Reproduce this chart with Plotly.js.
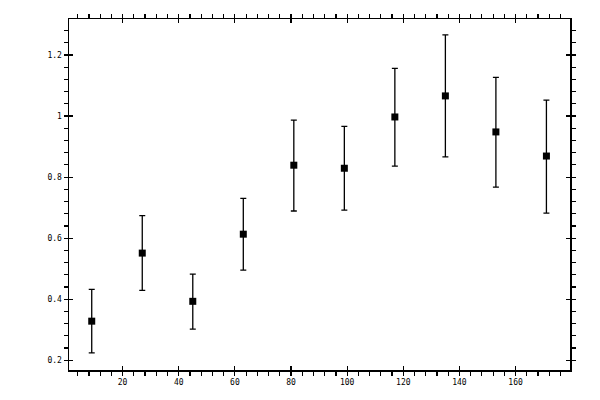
<!DOCTYPE html>
<html>
<head>
<meta charset="utf-8">
<script src="https://cdn.plot.ly/plotly-3.0.1.min.js"></script>
<style>html,body{margin:0;padding:0;background:#fff;}#chart{width:600px;height:400px;}</style>
</head>
<body>
<div id="chart"></div>
<script>
const xValues = [9, 27, 45, 63, 81, 99, 117, 135, 153, 171];
const yValues = [0.328, 0.551, 0.393, 0.613, 0.839, 0.829, 0.997, 1.066, 0.948, 0.869];
const errUpper = [0.104, 0.123, 0.089, 0.117, 0.148, 0.137, 0.159, 0.200, 0.179, 0.183];
const errLower = [0.104, 0.122, 0.091, 0.118, 0.150, 0.137, 0.161, 0.200, 0.181, 0.187];

const tickFont = {family: 'DejaVu Sans Mono, monospace', size: 8, color: '#000'};

const traces = [
  {
    x: xValues, y: yValues, type: 'scatter', mode: 'markers',
    marker: {symbol: 'square', size: 7, color: '#000'},
    error_y: {type: 'data', symmetric: false, array: errUpper, arrayminus: errLower,
              color: '#000', thickness: 1.3, width: 3},
    xaxis: 'x', yaxis: 'y', hoverinfo: 'skip', showlegend: false
  },
  {
    x: xValues, y: yValues, type: 'scatter', mode: 'markers',
    marker: {size: 1, color: 'rgba(0,0,0,0)'},
    xaxis: 'x2', yaxis: 'y2', hoverinfo: 'skip', showlegend: false
  }
];

const xr = [0.9, 179.4];
const yr = [0.168, 1.318];

const layout = {
  width: 600, height: 400,
  margin: {l: 69, r: 30, t: 19, b: 30},
  paper_bgcolor: '#fff', plot_bgcolor: '#fff',
  showlegend: false,
  xaxis: {
    range: xr, tick0: 0, dtick: 20, showgrid: false, zeroline: false,
    showline: true, linecolor: '#000', linewidth: 1.5, mirror: 'allticks',
    ticks: 'outside', ticklen: 4, tickwidth: 1.2, tickcolor: '#000',
    minor: {tick0: 0, dtick: 4, ticks: 'outside', ticklen: 4, tickwidth: 1.2, tickcolor: '#000', showgrid: false},
    tickfont: tickFont, anchor: 'y'
  },
  yaxis: {
    range: yr, tick0: 0, dtick: 0.2, showgrid: false, zeroline: false,
    showline: true, linecolor: '#000', linewidth: 1.5, mirror: 'allticks',
    ticks: 'outside', ticklen: 4, tickwidth: 1.2, tickcolor: '#000',
    minor: {tick0: 0, dtick: 0.04, ticks: 'outside', ticklen: 4, tickwidth: 1.2, tickcolor: '#000', showgrid: false},
    tickfont: tickFont, anchor: 'x'
  },
  xaxis2: {
    range: xr, tick0: 0, dtick: 20, overlaying: 'x', anchor: 'y2',
    showgrid: false, zeroline: false, showline: false, mirror: 'allticks',
    ticks: 'inside', ticklen: 4, tickwidth: 1.2, tickcolor: '#000', showticklabels: false
  },
  yaxis2: {
    range: yr, tick0: 0, dtick: 0.2, overlaying: 'y', anchor: 'x2',
    showgrid: false, zeroline: false, showline: false, mirror: 'allticks',
    ticks: 'inside', ticklen: 4, tickwidth: 1.2, tickcolor: '#000', showticklabels: false
  }
};

Plotly.newPlot('chart', traces, layout, {staticPlot: true, displayModeBar: false});
</script>
</body>
</html>
